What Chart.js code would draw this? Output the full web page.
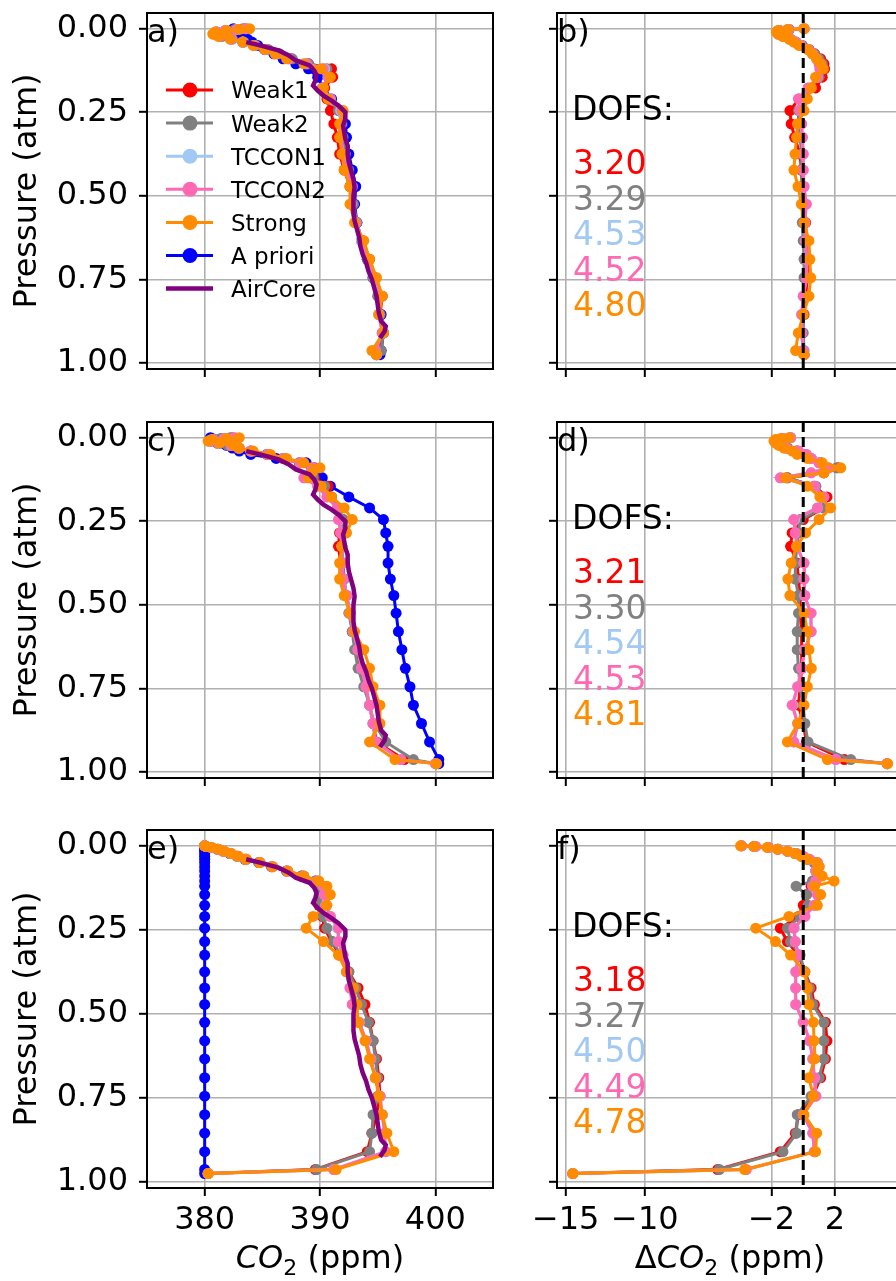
<!DOCTYPE html>
<html>
<head>
<meta charset="utf-8">
<script src="https://cdn.jsdelivr.net/npm/chart.js@4.4.0/dist/chart.umd.min.js"></script>
<style>
  body { margin: 0; background: #fff; overflow: hidden; }
  #wrap { position: relative; width: 896px; height: 1281px; overflow: hidden; background: #fff; }
</style>
</head>
<body>
<div id="wrap"></div>
<script>
// retrieval pressure grid (atm)
const levels = [0.000, 0.002, 0.005, 0.010, 0.016, 0.023, 0.031, 0.040, 0.050, 0.062, 0.075, 0.090, 0.105, 0.120, 0.145, 0.177, 0.210, 0.245, 0.285, 0.325, 0.375, 0.423, 0.472, 0.525, 0.580, 0.634, 0.690, 0.745, 0.800, 0.855, 0.910, 0.963, 0.975];

// AirCore profile (same in all three rows)
const airPressure = [0.04, 0.05, 0.065, 0.08, 0.095, 0.11, 0.125, 0.14, 0.155, 0.17, 0.185, 0.2, 0.215, 0.23, 0.25, 0.27, 0.29, 0.31, 0.33, 0.35, 0.375, 0.4, 0.425, 0.45, 0.475, 0.5, 0.525, 0.55, 0.575, 0.6, 0.625, 0.65, 0.675, 0.7, 0.725, 0.75, 0.775, 0.8, 0.825, 0.85, 0.875, 0.89, 0.905, 0.925];
const airCore = [383.6, 384.8, 386.4, 387.3, 387.9, 389.1, 389.5, 389.7, 389.6, 389.4, 389.8, 390.3, 391.0, 391.6, 392.2, 392.2, 392.0, 392.1, 392.2, 392.4, 392.4, 392.5, 392.7, 392.9, 393.0, 392.9, 392.9, 392.9, 393.0, 393.2, 393.4, 393.5, 393.7, 394.0, 394.2, 394.5, 394.7, 394.9, 395.0, 395.1, 395.3, 395.7, 395.6, 395.2];

// panel a) CO2 (ppm)
const weak1A = [383.5, 382.7, 381.8, 381.0, 380.9, 381.4, 382.3, 383.3, 384.3, 385.4, 386.4, 387.5, 389.0, 391.0, 391.1, 390.4, 390.6, 390.9, 391.2, 391.5, 391.7, 392.1, 392.6, 392.8, 393.1, 393.7, 394.3, 394.8, 395.4, 395.2, 395.4, 395.1, 394.9];
const weak2A = [383.3, 382.6, 381.8, 381.1, 381.0, 381.5, 382.4, 383.4, 384.4, 385.5, 386.5, 387.6, 389.0, 390.6, 390.8, 390.2, 390.8, 391.6, 391.9, 392.0, 392.2, 392.5, 392.8, 392.9, 393.2, 393.6, 394.1, 394.6, 395.0, 395.2, 395.5, 395.3, 394.9];
const tccon1A = [383.6, 382.8, 381.8, 381.0, 380.8, 381.3, 382.3, 383.3, 384.3, 385.3, 386.2, 387.3, 388.8, 390.4, 390.7, 390.2, 390.9, 391.8, 391.8, 391.8, 392.0, 392.3, 392.7, 392.7, 393.1, 393.6, 394.2, 394.7, 395.3, 395.1, 395.4, 394.8, 394.9];
const tccon2A = [383.6, 382.8, 381.8, 381.0, 380.8, 381.3, 382.3, 383.3, 384.3, 385.3, 386.2, 387.3, 388.8, 390.3, 390.7, 390.2, 390.9, 391.9, 391.8, 391.8, 392.0, 392.3, 392.8, 392.7, 393.1, 393.7, 394.2, 394.8, 395.3, 395.1, 395.4, 394.8, 394.9];
const strongA = [383.9, 383.0, 381.9, 380.9, 380.7, 381.2, 382.2, 383.3, 384.2, 385.2, 386.1, 387.1, 388.6, 390.1, 390.9, 390.3, 390.7, 392.0, 391.7, 391.7, 391.9, 392.1, 392.6, 392.6, 393.0, 393.8, 394.3, 394.9, 395.4, 395.1, 395.5, 394.5, 394.9];
const aprioriA = [382.5, 382.6, 382.8, 383.0, 383.1, 383.3, 383.7, 384.1, 384.6, 385.2, 386.0, 386.8, 387.9, 389.0, 389.8, 390.3, 391.0, 391.7, 392.2, 392.3, 392.5, 392.8, 393.1, 393.0, 393.2, 393.6, 394.1, 394.6, 395.1, 395.3, 395.5, 395.3, 395.2];

// panel c)
const weak1C = [382.4, 381.5, 380.8, 380.5, 381.1, 382.1, 382.9, 384.0, 385.4, 386.8, 388.2, 389.3, 389.4, 389.5, 390.7, 391.0, 391.6, 392.0, 391.7, 391.6, 391.8, 392.0, 392.3, 392.6, 392.8, 393.2, 393.5, 393.9, 394.3, 394.6, 394.9, 397.3, 400.1];
const weak2C = [382.2, 381.4, 380.9, 380.6, 381.1, 382.0, 382.9, 384.0, 385.4, 386.8, 388.2, 389.3, 389.4, 389.4, 390.4, 390.9, 391.6, 392.0, 392.0, 391.9, 392.0, 392.1, 392.3, 392.5, 392.8, 393.0, 393.3, 393.8, 394.3, 394.7, 395.7, 398.1, 400.1];
const tccon1C = [382.6, 381.7, 380.7, 380.4, 381.2, 382.3, 383.0, 384.0, 385.5, 386.9, 388.3, 389.4, 389.2, 388.7, 389.8, 390.6, 391.5, 391.7, 391.8, 391.9, 391.9, 392.0, 392.3, 392.6, 392.9, 393.3, 393.6, 394.0, 394.3, 394.6, 394.8, 397.0, 400.0];
const tccon2C = [382.6, 381.7, 380.7, 380.4, 381.2, 382.3, 383.0, 384.0, 385.5, 386.9, 388.3, 389.4, 389.2, 388.6, 389.8, 390.6, 391.5, 391.6, 391.8, 391.9, 391.9, 392.0, 392.3, 392.6, 392.9, 393.3, 393.6, 394.0, 394.3, 394.6, 394.8, 397.0, 400.0];
const strongC = [383.0, 381.9, 380.6, 380.3, 381.3, 382.5, 383.0, 384.2, 385.7, 387.1, 388.6, 390.0, 389.3, 389.0, 390.1, 391.0, 392.1, 392.8, 392.3, 391.9, 391.7, 391.7, 392.1, 392.6, 393.0, 393.8, 394.3, 394.6, 395.2, 395.2, 394.3, 396.5, 400.1];
const aprioriC = [380.5, 380.6, 380.8, 381.0, 381.4, 381.9, 382.4, 383.0, 384.0, 386.2, 388.8, 389.5, 389.8, 390.2, 390.9, 392.5, 394.3, 395.5, 395.7, 395.9, 395.9, 396.1, 396.4, 396.6, 396.8, 397.1, 397.4, 397.8, 398.1, 398.8, 399.5, 400.3, 400.3];

// panel e)
const weak1E = [380.0, 380.1, 380.5, 381.1, 381.6, 382.2, 382.8, 383.5, 384.7, 385.8, 387.1, 388.4, 389.6, 390.1, 390.0, 389.9, 390.2, 390.4, 391.0, 391.7, 392.5, 393.3, 393.9, 394.3, 394.6, 394.9, 395.1, 395.2, 394.9, 394.5, 394.1, 389.6, 380.3];
const weak2E = [380.0, 380.1, 380.5, 381.1, 381.6, 382.2, 382.8, 383.5, 384.7, 385.8, 387.1, 388.4, 389.6, 390.0, 390.0, 390.0, 390.3, 390.6, 391.1, 391.8, 392.5, 393.1, 393.6, 394.2, 394.6, 394.8, 395.0, 395.0, 394.6, 394.5, 394.3, 389.7, 380.3];
const tccon1E = [380.0, 380.1, 380.6, 381.2, 381.7, 382.3, 382.9, 383.6, 384.8, 385.9, 387.2, 388.6, 389.8, 390.3, 390.4, 390.5, 390.9, 391.5, 391.6, 392.0, 392.3, 392.6, 392.8, 393.4, 394.0, 394.4, 394.8, 395.2, 395.4, 395.6, 395.7, 391.2, 380.3];
const tccon2E = [380.0, 380.1, 380.6, 381.2, 381.7, 382.3, 382.9, 383.6, 384.8, 385.9, 387.2, 388.6, 389.8, 390.3, 390.4, 390.5, 390.9, 391.6, 391.6, 392.0, 392.3, 392.6, 392.8, 393.4, 394.0, 394.4, 394.8, 395.2, 395.4, 395.6, 395.7, 391.2, 380.3];
const strongE = [380.0, 380.1, 380.6, 381.2, 381.7, 382.3, 382.9, 383.6, 384.8, 385.9, 387.2, 388.6, 389.9, 390.6, 390.9, 390.6, 389.4, 388.8, 390.3, 391.6, 392.3, 392.9, 393.2, 393.3, 393.9, 394.3, 394.8, 395.1, 395.4, 395.8, 396.4, 391.4, 380.3];
const aprioriE = [380.0, 380.0, 380.0, 380.0, 380.0, 380.0, 380.0, 380.0, 380.0, 380.0, 380.0, 380.0, 380.0, 380.0, 380.0, 380.0, 380.0, 380.0, 380.0, 380.0, 380.0, 380.0, 380.0, 380.0, 380.0, 380.0, 380.0, 380.0, 380.0, 380.0, 380.0, 380.0, 380.0];

// panel b) delta CO2 (ppm)
const dWeak1B = [0.05, -0.9, -1.5, -1.65, -1.55, -1.25, -0.85, -0.5, -0.1, 0.36, 0.72, 1.1, 1.31, 1.35, 1.2, 0.78, -0.27, -0.84, -0.76, -0.54, -0.2, -0.12, -0.06, 0.05, 0.15, 0.21, 0.26, 0.26, 0.15, 0.05, -0.06, 0.0, 0.05];
const dWeak2B = [0.05, -0.9, -1.5, -1.6, -1.5, -1.2, -0.8, -0.45, -0.05, 0.35, 0.7, 1.0, 1.2, 1.2, 1.0, 0.5, -0.1, -0.3, -0.3, -0.2, -0.1, -0.1, -0.06, -0.06, -0.06, 0.0, 0.05, 0.05, 0.05, 0.0, 0.0, 0.05, 0.05];
const dTccon1B = [0.05, -0.95, -1.55, -1.65, -1.55, -1.25, -0.85, -0.5, -0.15, 0.3, 0.6, 0.85, 1.0, 1.05, 0.9, 0.35, -0.25, -0.2, -0.1, -0.05, 0.0, 0.0, 0.05, 0.15, 0.1, 0.15, 0.2, 0.2, 0.0, -0.1, -0.1, 0.0, 0.05];
const dTccon2B = [0.05, -0.95, -1.55, -1.65, -1.55, -1.25, -0.85, -0.5, -0.15, 0.3, 0.6, 0.85, 1.0, 1.05, 0.9, 0.3, -0.3, -0.2, -0.1, -0.05, 0.0, 0.0, 0.05, 0.2, 0.1, 0.15, 0.2, 0.2, 0.0, -0.1, -0.1, 0.0, 0.05];
const dStrongB = [0.05, -1.0, -1.6, -1.7, -1.6, -1.3, -0.9, -0.6, -0.27, 0.26, 0.57, 0.85, 1.1, 1.27, 0.78, 0.51, 0.26, 0.05, -0.37, -0.42, -0.52, -0.59, -0.33, -0.12, 0.05, 0.36, 0.42, 0.47, 0.36, 0.0, -0.31, -0.48, 0.05];

// panel d)
const dWeak1D = [-0.8, -1.3, -1.6, -1.7, -1.6, -1.4, -1.0, -0.4, 0.1, 0.5, 1.1, 2.2, 1.3, -1.0, 0.7, 1.5, 1.3, 0.0, -0.7, -0.8, -0.4, -0.3, -0.2, -0.2, -0.1, -0.1, -0.1, -0.2, -0.3, 0.0, 0.2, 2.6, 5.3];
const dWeak2D = [-0.8, -1.3, -1.6, -1.7, -1.6, -1.4, -1.0, -0.4, 0.1, 0.5, 1.1, 2.1, 1.3, -1.0, 0.8, 1.2, 1.3, -0.2, -0.3, -0.4, -0.5, -0.5, -0.3, -0.3, -0.38, -0.38, -0.3, -0.2, 0.0, 0.1, 0.3, 3.0, 5.3];
const dTccon1D = [-0.8, -1.3, -1.6, -1.7, -1.6, -1.4, -1.1, -0.3, 0.2, 0.5, 1.0, 1.6, 0.5, -1.4, 0.7, 1.3, 0.9, -0.55, -0.5, -0.4, 0.05, 0.05, 0.1, 0.45, 0.5, 0.1, -0.1, -0.35, -0.65, -0.35, -0.6, 2.05, 5.3];
const dTccon2D = [-0.8, -1.3, -1.6, -1.7, -1.6, -1.4, -1.1, -0.3, 0.2, 0.5, 1.0, 1.6, 0.5, -1.45, 0.7, 1.3, 0.9, -0.6, -0.5, -0.4, 0.05, 0.05, 0.1, 0.5, 0.5, 0.1, -0.1, -0.35, -0.7, -0.35, -0.6, 2.05, 5.3];
const dStrongD = [-0.9, -1.43, -1.75, -1.85, -1.75, -1.54, -1.22, -0.69, -0.38, 0.26, 1.2, 2.37, 1.31, -1.11, 0.26, 1.05, 1.73, 1.0, 0.15, -0.42, -0.76, -0.97, -0.84, 0.05, 0.26, 0.36, 0.51, 0.26, 0.05, -0.33, -1.0, 1.53, 5.32];

// panel f)
const dWeak1F = [-3.9, -3.1, -2.2, -1.6, -1.0, -0.5, -0.1, 0.3, 0.7, 0.9, 0.8, 0.9, 0.6, 0.5, 0.2, 0.0, -0.3, -1.45, -1.0, -0.3, 0.1, 0.5, 0.7, 1.4, 1.5, 1.4, 1.1, 0.6, -0.3, -0.5, -1.45, -5.4, -14.55];
const dWeak2F = [-3.9, -3.1, -2.2, -1.6, -1.0, -0.5, -0.1, 0.3, 0.7, 0.9, 0.8, 0.9, 0.6, -0.45, 0.2, 0.3, -0.2, -1.0, -0.8, -0.2, 0.1, 0.4, 0.6, 1.3, 1.3, 1.3, 1.0, 0.5, -0.38, -0.42, -1.28, -5.3, -14.55];
const dTccon1F = [-3.9, -3.0, -2.2, -1.6, -1.0, -0.4, 0.0, 0.4, 0.9, 1.0, 0.8, 1.0, 0.8, 0.6, 0.9, 0.7, 0.1, -0.55, -0.5, -0.3, -0.45, -0.48, -0.45, 0.0, 0.4, 0.6, 0.7, 0.8, 0.0, 0.6, 0.7, -3.6, -14.55];
const dTccon2F = [-3.9, -3.0, -2.2, -1.6, -1.0, -0.4, 0.0, 0.4, 0.9, 1.0, 0.8, 1.0, 0.8, 0.6, 0.9, 0.7, 0.1, -0.6, -0.5, -0.3, -0.48, -0.48, -0.48, 0.0, 0.4, 0.6, 0.7, 0.8, 0.0, 0.6, 0.7, -3.6, -14.55];
const dStrongF = [-3.96, -3.12, -2.28, -1.64, -1.01, -0.48, -0.16, 0.26, 0.85, 1.0, 0.89, 1.2, 1.95, 0.72, 1.1, 0.89, -0.9, -3.0, -1.75, -0.8, 0.09, 0.26, 0.36, 0.64, 0.68, 0.72, 0.36, 0.64, 0.05, 0.85, 0.78, -3.7, -14.55];

// degrees of freedom text
const dofsB = ['3.20', '3.29', '4.53', '4.52', '4.80'];
const dofsD = ['3.21', '3.30', '4.54', '4.53', '4.81'];
const dofsF = ['3.18', '3.27', '4.50', '4.49', '4.78'];

const names = ['Weak1', 'Weak2', 'TCCON1', 'TCCON2', 'Strong', 'A priori', 'AirCore'];
const colors = ['#ff0000', '#808080', '#a1c9f4', '#ff69b4', '#ff8c00', '#0000ff', '#800080'];

const yTicks = [0, 0.25, 0.5, 0.75, 1.0];
const co2Ticks = [380, 390, 400];
const dco2Ticks = [-15, -10, -2, 2];
const yMin = -0.047, yMax = 1.018;

const FONT = '"DejaVu Sans"';
Chart.defaults.font.family = 'DejaVu Sans';

// layout of the 3x2 grid (canvas boxes)
const rows = [
  { top: 0, h: 400, padTop: 13, xH: 31 },
  { top: 400, h: 410, padTop: 22, xH: 32 },
  { top: 810, h: 471, padTop: 20, xH: 93 },
];
const cols = [
  { left: 0, w: 500, yW: 147, padRight: 7, min: 375, max: 405, ticks: co2Ticks },
  { left: 500, w: 410, yW: 57, padRight: 7, min: -15.55, max: 6.3, ticks: dco2Ticks },
];

const panels = [
  { row: 0, col: 0, label: 'a)', series: [weak1A, weak2A, tccon1A, tccon2A, strongA], apriori: aprioriA, legend: true },
  { row: 0, col: 1, label: 'b)', series: [dWeak1B, dWeak2B, dTccon1B, dTccon2B, dStrongB], dofs: dofsB },
  { row: 1, col: 0, label: 'c)', series: [weak1C, weak2C, tccon1C, tccon2C, strongC], apriori: aprioriC },
  { row: 1, col: 1, label: 'd)', series: [dWeak1D, dWeak2D, dTccon1D, dTccon2D, dStrongD], dofs: dofsD },
  { row: 2, col: 0, label: 'e)', series: [weak1E, weak2E, tccon1E, tccon2E, strongE], apriori: aprioriE },
  { row: 2, col: 1, label: 'f)', series: [dWeak1F, dWeak2F, dTccon1F, dTccon2F, dStrongF], dofs: dofsF },
];

// x-axis title with italic CO and subscript 2
function drawCO2Title(ctx, cx, y, delta) {
  const parts = [];
  if (delta) parts.push({ t: '\u0394', f: '32px ' + FONT, dy: 0 });
  parts.push({ t: 'CO', f: 'italic 32px ' + FONT, dy: 0 });
  parts.push({ t: '2', f: '22px ' + FONT, dy: 7 });
  parts.push({ t: ' (ppm)', f: '32px ' + FONT, dy: 0 });
  let w = 0;
  parts.forEach(p => { ctx.font = p.f; p.w = ctx.measureText(p.t).width; w += p.w; });
  let x = cx - w / 2;
  parts.forEach(p => { ctx.font = p.f; ctx.fillText(p.t, x, y + p.dy); x += p.w; });
}

// frame, panel letters, legend, DOFS text and axis titles
const decor = {
  id: 'decor',
  afterDraw(chart, args, o) {
    const ctx = chart.ctx, a = chart.chartArea;
    ctx.save();
    ctx.strokeStyle = '#000';
    ctx.lineWidth = 2;
    ctx.strokeRect(a.left, a.top, a.right - a.left, a.bottom - a.top);
    ctx.textAlign = 'left';
    ctx.textBaseline = 'alphabetic';
    ctx.fillStyle = '#000';
    ctx.font = '32px ' + FONT;
    ctx.fillText(o.label, a.left, a.top + 29);
    if (o.dofs) {
      ctx.font = '33px ' + FONT;
      ctx.fillText('DOFS:', a.left + 15, a.top + 107);
      o.dofs.forEach((t, i) => {
        ctx.fillStyle = colors[i];
        ctx.fillText(t, a.left + 16, a.top + 161 + 35.6 * i);
      });
    }
    if (o.legend) {
      ctx.font = '23px ' + FONT;
      names.forEach((n, i) => {
        const y = a.top + 77 + 33.1 * i;
        ctx.strokeStyle = colors[i];
        ctx.lineWidth = i === 6 ? 4.5 : 3;
        ctx.beginPath();
        ctx.moveTo(a.left + 19, y);
        ctx.lineTo(a.left + 66, y);
        ctx.stroke();
        if (i !== 6) {
          ctx.fillStyle = colors[i];
          ctx.beginPath();
          ctx.arc(a.left + 43, y, 7.5, 0, Math.PI * 2);
          ctx.fill();
        }
        ctx.fillStyle = '#000';
        ctx.fillText(n, a.left + 84, y + 8.4);
      });
    }
    ctx.fillStyle = '#000';
    if (o.yTitle) {
      ctx.save();
      ctx.translate(36, (a.top + a.bottom) / 2);
      ctx.rotate(-Math.PI / 2);
      ctx.textAlign = 'center';
      ctx.font = '32px ' + FONT;
      ctx.fillText('Pressure (atm)', 0, 0);
      ctx.restore();
    }
    if (o.xTitle) {
      drawCO2Title(ctx, (a.left + a.right) / 2, a.bottom + 80, o.delta);
    }
    ctx.restore();
  }
};

const wrap = document.getElementById('wrap');

panels.forEach(p => {
  const r = rows[p.row], c = cols[p.col];
  const left = p.col === 0;
  const bottom = p.row === 2;
  const cv = document.createElement('canvas');
  cv.width = c.w;
  cv.height = r.h;
  cv.style.cssText = 'position:absolute;left:' + c.left + 'px;top:' + r.top + 'px';
  wrap.appendChild(cv);

  const datasets = p.series.map((vals, i) => ({
    label: names[i],
    data: levels.map((y, k) => ({ x: vals[k], y: y })),
    borderColor: colors[i],
    backgroundColor: colors[i],
    borderWidth: 3,
    pointRadius: 5.5,
    pointBorderWidth: 0,
    showLine: true,
    order: 5 - i
  }));
  if (left) {
    datasets.push({
      label: names[5],
      data: levels.map((y, k) => ({ x: p.apriori[k], y: y })),
      borderColor: colors[5], backgroundColor: colors[5],
      borderWidth: 3, pointRadius: 5.5, pointBorderWidth: 0, showLine: true, order: 6
    });
    datasets.push({
      label: names[6],
      data: airPressure.map((y, k) => ({ x: airCore[k], y: y })),
      borderColor: colors[6], backgroundColor: colors[6],
      borderWidth: 4.5, pointRadius: 0, showLine: true, order: 0
    });
  } else {
    datasets.push({
      label: 'zero',
      data: [{ x: 0, y: yMin }, { x: 0, y: yMax }],
      borderColor: '#000', borderWidth: 3, borderDash: [10, 5],
      pointRadius: 0, showLine: true, order: -1
    });
  }

  new Chart(cv, {
    type: 'scatter',
    data: { datasets: datasets },
    plugins: [decor],
    options: {
      responsive: false,
      animation: false,
      events: [],
      layout: { padding: { top: r.padTop, right: c.padRight, left: 0, bottom: 0 } },
      plugins: {
        legend: { display: false },
        tooltip: { enabled: false },
        decor: { label: p.label, dofs: p.dofs || null, legend: !!p.legend, yTitle: left, xTitle: bottom, delta: !left }
      },
      scales: {
        x: {
          type: 'linear',
          min: c.min, max: c.max,
          afterBuildTicks: s => { s.ticks = c.ticks.map(v => ({ value: v })); },
          afterFit: s => { s.height = r.xH; s.paddingLeft = 0; s.paddingRight = 0; },
          grid: { color: '#b0b0b0', lineWidth: 1.6, tickColor: '#000', tickWidth: 2, tickLength: 8, drawTicks: true },
          border: { display: false },
          ticks: {
            display: bottom, autoSkip: false, maxRotation: 0, padding: 5,
            color: '#000', font: { size: 32 },
            callback: v => v < 0 ? '\u2212' + Math.abs(v) : String(v)
          }
        },
        y: {
          type: 'linear',
          reverse: true,
          min: yMin, max: yMax,
          afterBuildTicks: s => { s.ticks = yTicks.map(v => ({ value: v })); },
          afterFit: s => { s.width = c.yW; s.paddingTop = 0; s.paddingBottom = 0; },
          grid: { color: '#b0b0b0', lineWidth: 1.6, tickColor: '#000', tickWidth: 2, tickLength: 8, drawTicks: true },
          border: { display: false },
          ticks: {
            display: left, autoSkip: false, padding: 11,
            color: '#000', font: { size: 32 },
            callback: v => v.toFixed(2)
          }
        }
      }
    }
  });
});
</script>
</body>
</html>
